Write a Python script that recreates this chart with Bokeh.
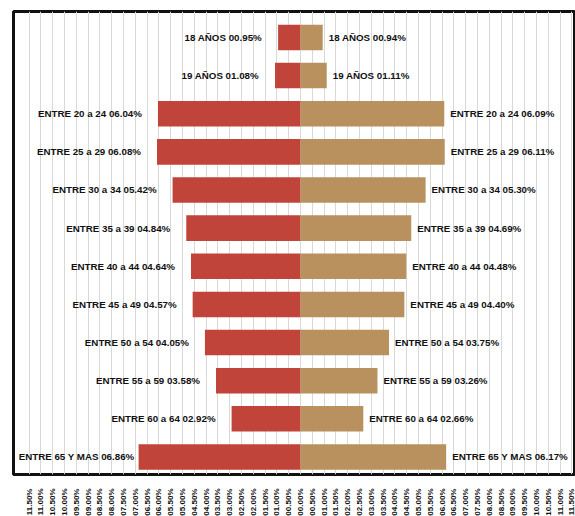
import numpy as np
from bokeh.plotting import figure
from bokeh.models import ColumnDataSource, FixedTicker, Range1d
from bokeh.core.properties import value
from bokeh.embed import file_html
from bokeh.resources import INLINE

groups = ["18 AÑOS", "19 AÑOS", "ENTRE 20 a 24", "ENTRE 25 a 29", "ENTRE 30 a 34",
          "ENTRE 35 a 39", "ENTRE 40 a 44", "ENTRE 45 a 49", "ENTRE 50 a 54",
          "ENTRE 55 a 59", "ENTRE 60 a 64", "ENTRE 65 Y MAS"]
mujeres = [0.95, 1.08, 6.04, 6.08, 5.42, 4.84, 4.64, 4.57, 4.05, 3.58, 2.92, 6.86]
hombres = [0.94, 1.11, 6.09, 6.11, 5.30, 4.69, 4.48, 4.40, 3.75, 3.26, 2.66, 6.17]

RED = "#C1443A"
BROWN = "#B9915E"
FONT = "Liberation Sans"

n = len(groups)
ypos = [n - 1 - i for i in range(n)]

# labels too wide for the space left of the bar are pulled in to stay inside the frame
off_f = [-4 if v > 6.5 else -16 for v in mujeres]

src = ColumnDataSource(dict(
    y=ypos,
    left_f=[-v for v in mujeres],
    right_m=hombres,
    off_f=off_f,
    lab_f=[f"{g} {v:05.2f}%" for g, v in zip(groups, mujeres)],
    lab_m=[f"{g} {v:05.2f}%" for g, v in zip(groups, hombres)],
))

p = figure(output_backend="svg", toolbar_location=None,
           frame_width=562, frame_height=463,
           min_border_left=13, min_border_top=11, min_border_right=0, min_border_bottom=0,
           x_range=Range1d(-12.16, 11.65), y_range=Range1d(-0.46, 11.68))

p.hbar(y="y", left="left_f", right=0, height=0.67, source=src, color=RED, line_color=None)
p.hbar(y="y", left=0, right="right_m", height=0.67, source=src, color=BROWN, line_color=None)

p.text(x="left_f", y="y", text="lab_f", source=src, x_offset="off_f", text_align="right",
       text_baseline="middle", text_font=value(FONT), text_font_style="bold",
       text_font_size="9.75px", text_color="#111111")
p.text(x="right_m", y="y", text="lab_m", source=src, x_offset=6, text_align="left",
       text_baseline="middle", text_font=value(FONT), text_font_style="bold",
       text_font_size="9.75px", text_color="#111111")

ticks = [round(t, 2) for t in np.arange(-11.5, 11.51, 0.5)]
tick_labels = {t: f"{abs(t):05.2f}%" for t in ticks}

p.xaxis.ticker = FixedTicker(ticks=ticks)
p.xaxis.major_label_overrides = tick_labels
p.xaxis.major_label_orientation = np.pi / 2
p.xaxis.major_label_text_font = FONT
p.xaxis.major_label_text_font_style = "bold"
p.xaxis.major_label_text_font_size = "8px"
p.xaxis.major_label_text_color = "#111111"
p.xaxis.major_tick_line_color = None
p.xaxis.minor_tick_line_color = None
p.xaxis.axis_line_color = None
p.xaxis.major_label_standoff = 8

p.yaxis.visible = False
p.ygrid.grid_line_color = None
p.xgrid.grid_line_color = "#d9d9d9"
p.xgrid.grid_line_width = 1

p.outline_line_color = "#111111"
p.outline_line_width = 3
p.background_fill_color = "white"
p.border_fill_color = "white"

open("out.html", "w").write(file_html(p, INLINE))
